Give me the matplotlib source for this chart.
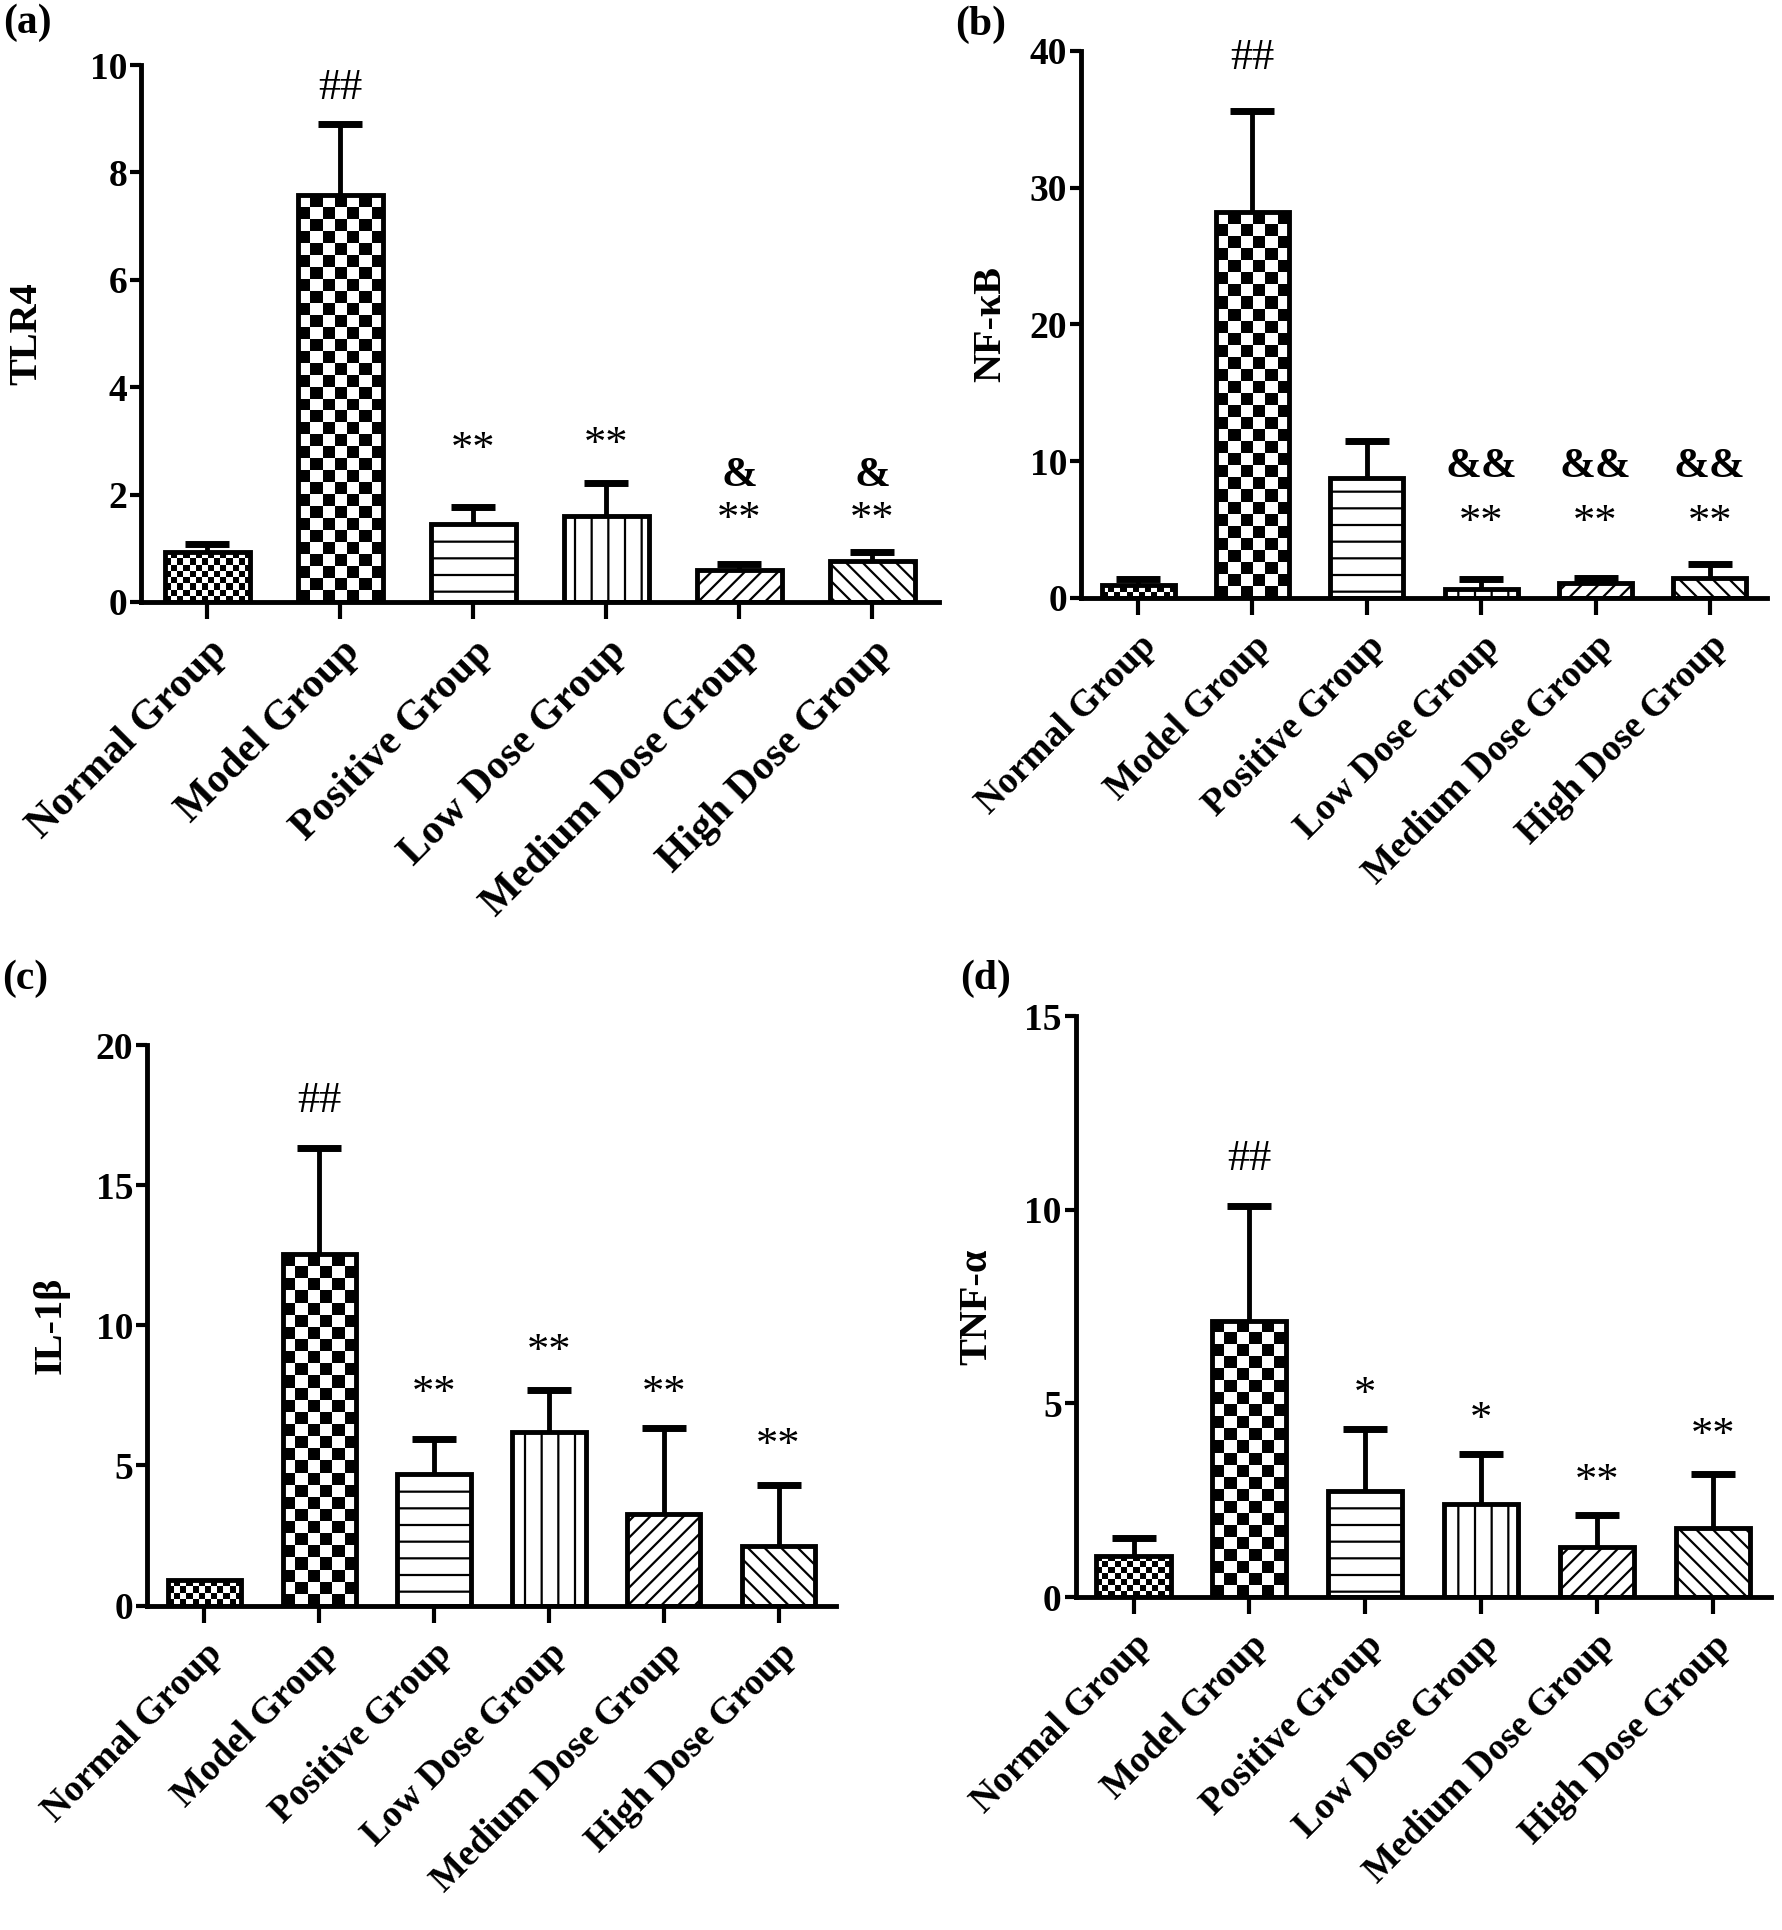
import numpy as np
import matplotlib
matplotlib.use('Agg')
import matplotlib.pyplot as plt

plt.rcParams['font.family'] = ['Liberation Serif', 'DejaVu Serif']
plt.rcParams['hatch.linewidth'] = 1.6

groups = ['Normal Group', 'Model Group', 'Positive Group',
          'Low Dose Group', 'Medium Dose Group', 'High Dose Group']

# (a) TLR4
tlr4_mean = [0.93, 7.58, 1.45, 1.60, 0.60, 0.77]
tlr4_sd = [0.15, 1.33, 0.31, 0.62, 0.11, 0.16]
tlr4_marks = [(1, '##', 9.57), (2, '**', 2.83), (3, '**', 2.93),
              (4, '&', 2.35), (4, '**', 1.52), (5, '&', 2.35), (5, '**', 1.52)]

# (b) NF-kB
nfkb_mean = [0.91, 28.2, 8.8, 0.67, 1.06, 1.45]
nfkb_sd = [0.45, 7.4, 2.7, 0.69, 0.36, 1.03]
nfkb_marks = [(1, '##', 39.5), (3, '&&', 9.6), (3, '**', 5.5),
              (4, '&&', 9.6), (4, '**', 5.5), (5, '&&', 9.6), (5, '**', 5.5)]

# (c) IL-1b
il1b_mean = [0.93, 12.55, 4.70, 6.20, 3.25, 2.12]
il1b_sd = [0.0, 3.78, 1.25, 1.48, 3.10, 2.20]
il1b_marks = [(1, '##', 18.0), (2, '**', 7.54), (3, '**', 9.05),
              (4, '**', 7.54), (5, '**', 5.70)]

# (d) TNF-a
tnfa_mean = [1.07, 7.13, 2.75, 2.41, 1.29, 1.78]
tnfa_sd = [0.45, 2.96, 1.59, 1.29, 0.82, 1.40]
tnfa_marks = [(1, '##', 11.32), (2, '*', 5.23), (3, '*', 4.56),
              (4, '**', 2.96), (5, '**', 4.15)]

fills = ['checker_fine', 'checker', '-', '|', '//', '\\\\']

W, H = 1782, 1930
fig = plt.figure(figsize=(W / 100, H / 100), dpi=100)


def checker(ax, bar, cell):
    x0, w, h = bar.get_x(), bar.get_width(), bar.get_height()
    p0 = ax.transData.transform((x0, 0))
    p1 = ax.transData.transform((x0 + w, h))
    nx = max(1, int(round(abs(p1[0] - p0[0]) / cell)))
    ny = max(1, int(round(abs(p1[1] - p0[1]) / cell)))
    arr = np.indices((ny, nx)).sum(axis=0) % 2
    im = ax.imshow(arr, extent=(x0, x0 + w, 0, h), origin='lower', cmap='gray',
                   interpolation='nearest', aspect='auto', zorder=1.5)
    im.set_clip_path(bar)


def panel(rect, mean, sd, marks, ylabel, ymax, ystep, lab_x, xfs, tag, tag_xy):
    ax = fig.add_axes(rect)
    x = np.arange(len(groups))
    ax.set_xlim(-0.5, len(groups) - 0.5)
    ax.set_ylim(0, ymax)
    bars = ax.bar(x, mean, width=0.64, facecolor='none', edgecolor='black',
                  linewidth=3.5, zorder=3)
    for b, f in zip(bars, fills):
        if f == 'checker':
            checker(ax, b, 12)
        elif f == 'checker_fine':
            checker(ax, b, 6)
        else:
            b.set_hatch(f)
    sd = np.array(sd)
    keep = sd > 0
    eb = ax.errorbar(x[keep], np.array(mean)[keep], yerr=[np.zeros(keep.sum()), sd[keep]],
                     fmt='none', ecolor='black', elinewidth=3.5, capsize=16,
                     capthick=5, zorder=4)
    eb[1][0].set_visible(False)
    for i, t, y in marks:
        if '&' in t:
            ax.text(i, y, t, ha='center', va='center', fontsize=31,
                    fontweight='bold', zorder=5)
        else:
            ax.text(i, y, t, ha='center', va='center', fontsize=32, zorder=5)
    for s in ['top', 'right']:
        ax.spines[s].set_visible(False)
    for s in ['left', 'bottom']:
        ax.spines[s].set_linewidth(3.5)
    ax.set_yticks(np.arange(0, ymax + 0.01, ystep))
    ax.set_xticks(x)
    ax.set_xticklabels(groups, rotation=45, ha='right', rotation_mode='anchor',
                       fontsize=xfs, fontweight='bold')
    ax.tick_params(axis='x', length=12, width=3, pad=10)
    ax.tick_params(axis='y', length=8, width=3, pad=2, labelsize=27)
    for lbl in ax.get_yticklabels():
        lbl.set_fontweight('bold')
    ax.set_ylabel(ylabel, fontsize=29, fontweight='bold')
    ax.yaxis.set_label_coords(lab_x, 0.5)
    fig.text(tag_xy[0], tag_xy[1], tag, fontsize=30, fontweight='bold',
             ha='left', va='top')
    return ax


panel([0.0791, 0.6881, 0.4478, 0.2782], tlr4_mean, tlr4_sd, tlr4_marks, 'TLR4',
      10, 2, -0.120, 30, '(a)', (0.002, 0.998))
panel([0.6066, 0.6902, 0.3850, 0.2834], nfkb_mean, nfkb_sd, nfkb_marks, 'NF-κB',
      40, 10, -0.104, 27, '(b)', (0.536, 0.997))
panel([0.0825, 0.1681, 0.3866, 0.2904], il1b_mean, il1b_sd, il1b_marks, 'IL-1β',
      20, 5, -0.112, 27, '(c)', (0.001, 0.5026))
panel([0.6036, 0.1725, 0.3900, 0.3010], tnfa_mean, tnfa_sd, tnfa_marks, 'TNF-α',
      15, 5, -0.116, 27, '(d)', (0.5387, 0.5026))

fig.savefig('out.png', dpi=100)
